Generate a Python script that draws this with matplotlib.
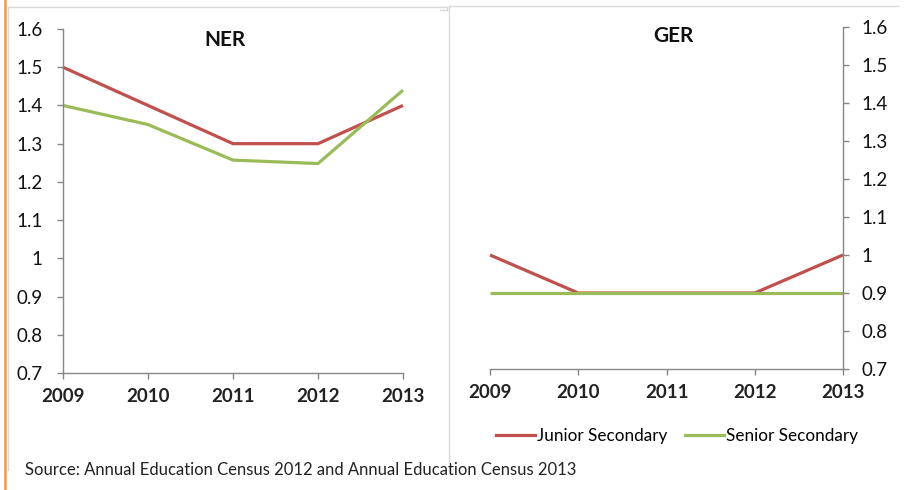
import matplotlib
matplotlib.use("Agg")
import matplotlib.pyplot as plt
from matplotlib.lines import Line2D

plt.rcParams['font.family'] = ['Lato', 'DejaVu Sans']

years = [2009, 2010, 2011, 2012, 2013]
year_labels = ["2009", "2010", "2011", "2012", "2013"]
ner_junior = [1.5, 1.4, 1.3, 1.3, 1.4]
ner_senior = [1.4, 1.35, 1.257, 1.248, 1.44]
ger_junior = [1.0, 0.9, 0.9, 0.9, 1.0]
ger_senior = [0.9, 0.9, 0.9, 0.9, 0.9]
y_ticks = [0.7, 0.8, 0.9, 1.0, 1.1, 1.2, 1.3, 1.4, 1.5, 1.6]
y_tick_labels = ["0.7", "0.8", "0.9", "1", "1.1", "1.2", "1.3", "1.4", "1.5", "1.6"]
series_names = ["Junior Secondary", "Senior Secondary"]
titles = ["NER", "GER"]
source = "Source: Annual Education Census 2012 and Annual Education Census 2013"

RED = "#C0504D"
GREEN = "#9BBB59"
AX = "#868686"
BORDER = "#D9D9D9"

W, H = 924, 490
fig = plt.figure(figsize=(W / 100, H / 100), dpi=100)

def fx(px):
    return px / W

def fy(py):
    return 1 - py / H

ax1 = fig.add_axes([fx(63), fy(373), fx(403 - 63), (373 - 29) / H])
ax2 = fig.add_axes([fx(490), fy(369), fx(843 - 490), (369 - 27) / H])

for ax, j, s in [(ax1, ner_junior, ner_senior), (ax2, ger_junior, ger_senior)]:
    ax.plot(range(len(years)), j, color=RED, lw=2.3, label=series_names[0], solid_capstyle='butt')
    ax.plot(range(len(years)), s, color=GREEN, lw=2.3, label=series_names[1], solid_capstyle='butt')
    ax.set_xlim(0, len(years) - 1)
    ax.set_ylim(0.7, 1.6)
    ax.set_xticks(range(len(years)))
    ax.set_xticklabels(year_labels, fontsize=13.5, fontweight='bold', color='#222222')
    ax.set_yticks(y_ticks)
    ax.set_yticklabels(y_tick_labels, fontsize=13.5, color='#111111')
    ax.spines['top'].set_visible(False)
    for sp in ax.spines.values():
        sp.set_color(AX)
        sp.set_linewidth(1.0)
    ax.tick_params(axis='both', direction='out', length=4.5, width=1.0, color=AX)
    ax.tick_params(axis='x', pad=6)
    ax.patch.set_alpha(0)
    for l in ax.get_lines():
        l.set_clip_on(False)

ax1.spines['right'].set_visible(False)
ax1.tick_params(axis='y', pad=10)
ax2.spines['left'].set_visible(False)
ax2.yaxis.tick_right()
ax2.tick_params(axis='y', pad=9)

fig.text(fx(225), fy(40), titles[0], fontsize=15, fontweight='bold', ha='center', va='center', color='#111111')
fig.text(fx(673), fy(36), titles[1], fontsize=15, fontweight='bold', ha='center', va='center', color='#111111')

# chart borders
def fline(x0, y0, x1, y1, color, lw):
    fig.add_artist(Line2D([fx(x0), fx(x1)], [fy(y0), fy(y1)], color=color, lw=lw, transform=fig.transFigure))

fline(8, 7, 447, 7, BORDER, 1.0)
fline(8, 7, 8, 470, BORDER, 1.0)
fline(447, 7, 447, 10, BORDER, 1.0)
fline(440, 10, 447, 10, BORDER, 1.0)
fline(449, 6, 898, 6, BORDER, 1.0)
fline(449, 6, 449, 463, BORDER, 1.0)
# orange left accent
fline(5, 0, 5, 490, "#F79646", 1.8)

handles = [Line2D([], [], color=RED, lw=2.3), Line2D([], [], color=GREEN, lw=2.3)]
fig.legend(handles, series_names, loc='center', bbox_to_anchor=(fx(677), fy(436)), ncol=2,
           frameon=False, fontsize=12.3, handlelength=2.3, handletextpad=0.12, columnspacing=1.0)

fig.text(fx(25), fy(470), source, fontsize=12, ha='left', va='center', color='#222222')

fig.savefig("out.png", dpi=100)
